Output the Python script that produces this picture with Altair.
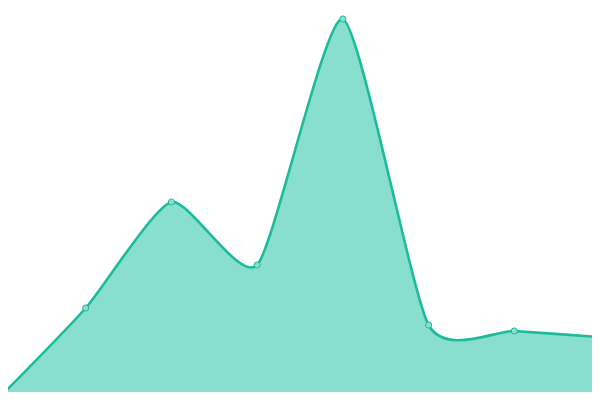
import altair as alt
import pandas as pd

xs = [0, 1, 2, 3, 4, 5, 6, 7]
values = [3, 92, 198, 135, 381, 75, 69, 63]

df = pd.DataFrame({"x": xs, "v": values})

step = 600 / 7
xscale = alt.Scale(domain=[8 / step, 592 / step], nice=False, zero=False)
yscale = alt.Scale(domain=[8, 392], nice=False, zero=False)

base = alt.Chart(df).encode(
    x=alt.X("x:Q", scale=xscale, axis=None),
    y=alt.Y("v:Q", scale=yscale, axis=None),
)

area = base.mark_area(
    interpolate="cardinal",
    tension=0.4,
    color="#88dfce",
    opacity=1,
    clip=True,
    line={"color": "#1dbb9a", "strokeWidth": 2.6},
)
pts = base.mark_point(
    filled=True, size=38, fill="#88dfce", stroke="#1dbb9a", strokeWidth=1, opacity=1, clip=True
)

chart = (area + pts).properties(width=584, height=384, padding=0).configure_view(stroke=None)

chart.save("out.html", embed_options={"renderer": "svg", "actions": False})
